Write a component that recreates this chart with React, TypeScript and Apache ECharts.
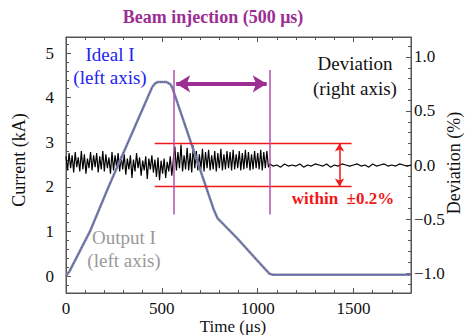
import React, { useEffect, useRef } from "react";
import * as echarts from "echarts";

// ---- data ----
const TIME_CUR = [0, 20, 125, 220, 450, 465, 480, 525, 545, 555, 770, 790, 890, 1000, 1062, 1080, 1800];
const IDEAL_I = [0, 0.12, 1.0, 1.98, 4.24, 4.32, 4.35, 4.35, 4.3, 4.22, 1.5, 1.3, 0.86, 0.34, 0.05, 0.03, 0.03];
const OUTPUT_I = [0, 0.12, 1.0, 1.98, 4.24, 4.32, 4.35, 4.35, 4.3, 4.22, 1.5, 1.3, 0.86, 0.34, 0.05, 0.03, 0.03];

// deviation (%) sampled every 8 µs from 0 to 1064 µs
const DEV_STEP = 8;
const DEV_HEAD = [
  0.08, -0.05, 0.11, -0.03, 0.09, -0.07, 0.12, -0.02, 0.07, -0.06, 0.13, -0.04, 0.1, -0.08, 0.06, -0.03, 0.12, -0.05, 0.09, -0.02,
  0.11, -0.07, 0.08, -0.04, 0.13, -0.06, 0.1, -0.03, 0.07, -0.08, 0.12, -0.05, 0.09, -0.02, 0.11, -0.06, 0.08, -0.04,
  0.1, -0.09, 0.06, -0.04, 0.09, -0.12, 0.05, -0.06, 0.11, -0.03, 0.07, -0.1, 0.04, -0.05, 0.08, -0.13, 0.06, -0.04, 0.09, -0.07,
  0.05, -0.11, 0.07,
  -0.14, 0.04, -0.08, 0.06, -0.12, 0.03, -0.06, 0.08, -0.1, 0.05,
  0.17, -0.05, 0.12, -0.03, 0.19, -0.06, 0.09, -0.04, 0.16, -0.05,
  0.11, -0.07, 0.18, -0.03, 0.13, -0.05, 0.1, -0.04, 0.15, -0.06,
  0.12, -0.03, 0.14, -0.05, 0.09, -0.04, 0.13, -0.06, 0.11, -0.03,
  0.15, -0.05, 0.1, -0.04, 0.13, -0.03, 0.12, -0.05, 0.14, -0.04,
  0.1, -0.03, 0.13, -0.05, 0.11, -0.04, 0.14, -0.03, 0.12, -0.05,
  0.1, -0.04, 0.13, -0.03, 0.11, -0.04, 0.14, -0.05, 0.12, -0.03,
  0.13, -0.02, 0.01,
];
// deviation (%) sampled every 20 µs from 1080 to 1800 µs
const DEV_TAIL_START = 1080;
const DEV_TAIL_STEP = 20;
const DEV_TAIL = [
  -0.01, 0.0, -0.02, 0.01, -0.01, 0.0, -0.01, 0.01, -0.02, 0.0,
  -0.01, 0.01, 0.0, -0.01, 0.01, -0.02, 0.0, -0.01, 0.01, 0.0,
  -0.01, 0.0, 0.01, -0.01, 0.0, -0.02, 0.01, -0.01, 0.0, 0.01,
  -0.01, 0.0, -0.01, 0.01, 0.0, -0.01, 0.0,
];

const X_MIN = 0;
const X_MAX = 1800;
const X_STEP = 500;
const Y_LEFT = [-0.38, 5.36];
const Y_RIGHT = [-1.185, 1.185];

const FONT = '"Liberation Serif", "Times New Roman", serif';
const PURPLE = "#9c2d93";
const PURPLE_LINE = "#b050ae";
const RED = "#f01818";
const AXIS = "#555555";

export default function App() {
  const ref = useRef<HTMLDivElement>(null);
  useEffect(() => {
    if (!ref.current) return;
    const chart = echarts.init(ref.current, undefined, { renderer: "svg" });
    const cur = (arr: number[]) => TIME_CUR.map((t, i) => [t, arr[i]]);
    const dev = [
      ...DEV_HEAD.map((v, i) => [i * DEV_STEP, v]),
      ...DEV_TAIL.map((v, i) => [DEV_TAIL_START + i * DEV_TAIL_STEP, v]),
    ];
    const tickCommon = {
      axisLine: { show: true, onZero: false, lineStyle: { color: AXIS, width: 1 } },
      axisTick: { show: true, inside: true, length: 5, lineStyle: { color: AXIS } },
      minorTick: { show: true, splitNumber: 5, length: 3, lineStyle: { color: AXIS } },
      splitLine: { show: false },
    };
    const labelStyle = { color: "#111", fontFamily: FONT, fontSize: 17 };

    const txt = (text: string, x: number, y: number, fill: string, size: number, bold = false, rotation = 0) => ({
      type: "text",
      x,
      y,
      rotation,
      silent: true,
      style: {
        text,
        fill,
        font: `${bold ? "bold " : ""}${size}px ${FONT}`,
        textAlign: "center",
        align: "center",
        textVerticalAlign: "middle",
        verticalAlign: "middle",
      },
    });

    chart.setOption({
      animation: false,
      backgroundColor: "#fff",
      grid: {
        left: 66,
        right: 54,
        top: 37,
        bottom: 42,
        containLabel: false,
        outerBoundsMode: "none",
        show: true,
        borderColor: AXIS,
        borderWidth: 1,
      },
      xAxis: [
        {
          type: "value",
          min: X_MIN,
          max: X_MAX,
          interval: X_STEP,
          position: "bottom",
          ...tickCommon,
          axisLabel: {
            ...labelStyle,
            margin: 7,
            showMaxLabel: false,
            formatter: (v: number) => String(v),
          },
        },
        {
          type: "value",
          min: X_MIN,
          max: X_MAX,
          interval: X_STEP,
          position: "top",
          ...tickCommon,
          axisLabel: { show: false },
        },
      ],
      yAxis: [
        {
          type: "value",
          min: Y_LEFT[0],
          max: Y_LEFT[1],
          position: "left",
          ...tickCommon,
          axisLabel: {
            ...labelStyle,
            margin: 12,
            showMinLabel: false,
            showMaxLabel: false,
            formatter: (v: number) => String(Math.round(v)),
          },
        },
        {
          type: "value",
          min: Y_RIGHT[0],
          max: Y_RIGHT[1],
          position: "right",
          ...tickCommon,
          axisLabel: {
            ...labelStyle,
            margin: 3,
            showMinLabel: false,
            showMaxLabel: false,
            formatter: (v: number) => (Math.abs(v) < 1e-9 ? "0.0" : v.toFixed(1).replace("-", "−")),
          },
        },
      ],
      series: [
        {
          name: "Deviation",
          type: "line",
          xAxisIndex: 0,
          yAxisIndex: 1,
          data: dev,
          showSymbol: false,
          symbol: "none",
          lineStyle: { color: "#000", width: 1.2 },
          z: 2,
          markLine: {
            silent: true,
            animation: false,
            symbol: ["none", "none"],
            label: { show: false },
            data: [
              [
                { coord: [463, 0.2], lineStyle: { color: RED, width: 1.3, type: "solid" } },
                { coord: [1490, 0.2] },
              ],
              [
                { coord: [463, -0.2], lineStyle: { color: RED, width: 1.3, type: "solid" } },
                { coord: [1490, -0.2] },
              ],
              [
                { coord: [1427, 0.2], symbol: "arrow", symbolSize: [7, 8], lineStyle: { color: RED, width: 1.5, type: "solid" } },
                { coord: [1427, -0.2], symbol: "arrow", symbolSize: [7, 8] },
              ],
            ],
          },
        },
        {
          name: "Output I",
          type: "line",
          yAxisIndex: 0,
          data: cur(OUTPUT_I),
          showSymbol: false,
          symbol: "none",
          lineStyle: { color: "#8a8d9e", width: 2.6 },
          z: 3,
        },
        {
          name: "Ideal I",
          type: "line",
          yAxisIndex: 0,
          data: cur(IDEAL_I),
          showSymbol: false,
          symbol: "none",
          lineStyle: { color: "#2d3ad8", width: 1, type: "dotted" },
          z: 4,
          markLine: {
            silent: true,
            animation: false,
            symbol: ["none", "none"],
            label: { show: false },
            data: [
              [
                { coord: [563, 4.62], lineStyle: { color: PURPLE_LINE, width: 1.5, type: "solid" } },
                { coord: [563, 1.38] },
              ],
              [
                { coord: [1063, 4.62], lineStyle: { color: PURPLE_LINE, width: 1.5, type: "solid" } },
                { coord: [1063, 1.38] },
              ],
              [
                { coord: [575, 4.31], symbol: "arrow", symbolSize: [13, 14], lineStyle: { color: PURPLE, width: 4, type: "solid" } },
                { coord: [1047, 4.31], symbol: "arrow", symbolSize: [13, 14] },
              ],
            ],
          },
        },
      ],
      graphic: [
        txt("Beam injection (500 μs)", 213, 17, PURPLE, 18, true),
        txt("Ideal I", 110, 54, "#2323ee", 19),
        txt("(left axis)", 110, 77, "#2323ee", 19),
        txt("Deviation", 355, 63, "#111", 19),
        txt("(right axis)", 355, 88, "#111", 19),
        txt("Output I", 124, 237, "#999", 19),
        txt("(left axis)", 124, 260, "#999", 19),
        txt("within  ±0.2%", 343, 198, RED, 17, true),
        txt("Current (kA)", 19, 160, "#111", 18, false, Math.PI / 2),
        txt("Deviation (%)", 454, 163, "#111", 18, false, Math.PI / 2),
        txt("Time (μs)", 233, 326, "#111", 17),
      ],
    });
    return () => chart.dispose();
  }, []);
  return (
    <div
      ref={ref}
      style={{ position: "fixed", left: 0, top: 0, width: 465, height: 335, background: "#fff" }}
    />
  );
}
